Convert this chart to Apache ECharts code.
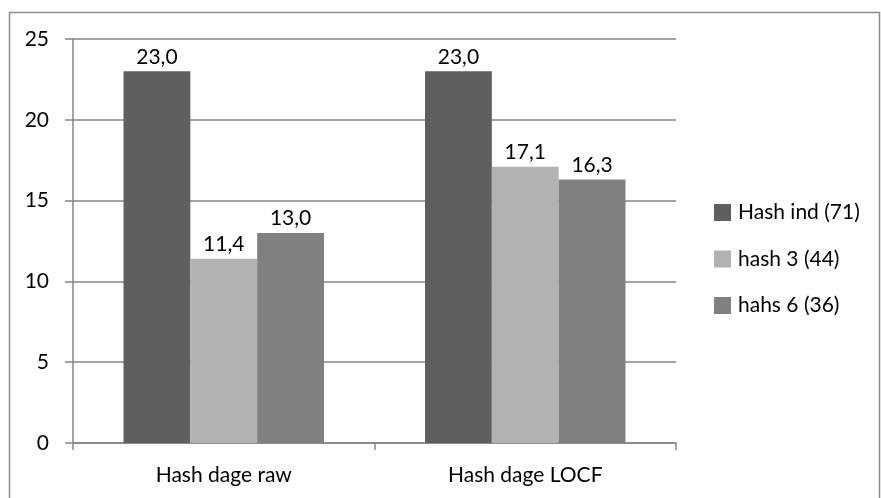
<!DOCTYPE html>
<html>
<head>
<meta charset="utf-8">
<script src="https://cdn.jsdelivr.net/npm/echarts@6/dist/echarts.min.js"></script>
<style>
html,body{margin:0;padding:0;background:#fff;}
#c{width:881px;height:498px;}
</style>
</head>
<body>
<div id="c"></div>
<script>
var categories = ["Hash dage raw", "Hash dage LOCF"];
var seriesNames = ["Hash ind (71)", "hash 3 (44)", "hahs 6 (36)"];
var hashInd = [23.0, 23.0];
var hash3 = [11.4, 17.1];
var hahs6 = [13.0, 16.3];
var colors = ["#5f5f5f", "#b2b2b2", "#808080"];
var yTicks = [0, 5, 10, 15, 20, 25];

var FONT = "Lato";
var FS = 21;
var chart = echarts.init(document.getElementById('c'), null, {renderer: 'canvas'});
function fmt(p){ return p.value.toFixed(1).replace('.', ','); }
var dataSets = [hashInd, hash3, hahs6];
var series = dataSets.map(function(d, i){
  return {
    name: seriesNames[i],
    type: 'bar',
    data: d,
    barGap: '0%',
    barCategoryGap: '33.5%',
    itemStyle: {color: colors[i]},
    label: {show: true, position: 'top', distance: 4, formatter: fmt,
            color: '#000', fontFamily: FONT, fontSize: FS}
  };
});
chart.setOption({
  animation: false,
  textStyle: {fontFamily: FONT},
  graphic: [{
    type: 'rect', shape: {x: 9.5, y: 12.5, width: 870, height: 500},
    style: {fill: null, stroke: '#8c8c8c', lineWidth: 1.5}, silent: true, z: -1
  }],
  grid: {left: 73, right: 205, top: 39, bottom: 55, containLabel: false},
  legend: {
    orient: 'vertical', left: 714, top: 202,
    itemWidth: 17, itemHeight: 17, itemGap: 25.5, padding: 0,
    icon: 'rect',
    textStyle: {color: '#000', fontFamily: FONT, fontSize: FS, padding: [0,0,0,2]},
    data: seriesNames
  },
  xAxis: {
    type: 'category', data: categories,
    axisLine: {lineStyle: {color: '#868686', width: 1.5}},
    axisTick: {show: true, length: 7, lineStyle: {color: '#868686', width: 1.5}},
    axisLabel: {color: '#000', fontFamily: FONT, fontSize: FS, margin: 22}
  },
  yAxis: {
    type: 'value', min: yTicks[0], max: yTicks[yTicks.length-1], interval: 5,
    axisLine: {show: true, lineStyle: {color: '#868686', width: 1.5}},
    axisTick: {show: true, length: 8, lineStyle: {color: '#868686', width: 1.5}},
    splitLine: {lineStyle: {color: '#868686', width: 1.5}},
    axisLabel: {color: '#000', fontFamily: FONT, fontSize: FS, margin: 24}
  },
  series: series
});
</script>
</body>
</html>
